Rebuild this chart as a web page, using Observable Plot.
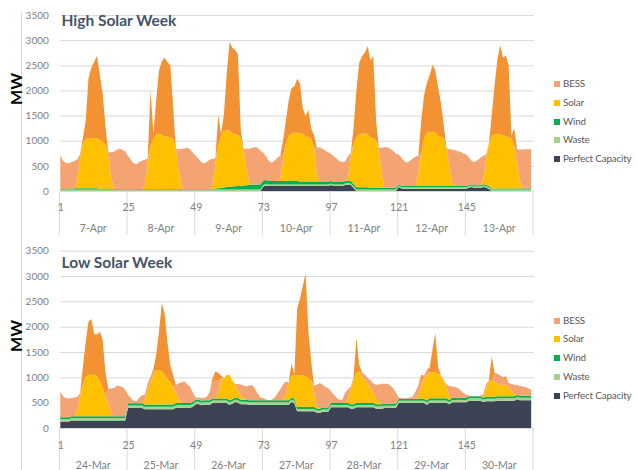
<!DOCTYPE html>
<html><head><meta charset="utf-8">
<script src="https://cdn.jsdelivr.net/npm/d3@7"></script>
<script src="https://cdn.jsdelivr.net/npm/@observablehq/plot@0.6"></script>
<style>
html,body{margin:0;padding:0;background:#fff;overflow:hidden}
#chart{position:relative;width:636px;height:470px;font-family:Lato,"Open Sans",sans-serif;overflow:hidden}
#chart svg{position:absolute;left:0}
.abs{position:absolute;white-space:nowrap;line-height:1}
</style></head><body><div id="chart"></div>
<script>
// ---------- categories / labels ----------
const order = ["Perfect Capacity","Waste","Wind","Solar","BESS","Solar to BESS"];
const colors = ["#3b4355","#a9d18e","#00b050","#ffc000","#f4a472","#f39232"];
const legendNames = ["BESS","Solar","Wind","Waste","Perfect Capacity"];
const legendColors = ["#f4a472","#ffc000","#00b050","#a9d18e","#3b4355"];
const yTicks = [0,500,1000,1500,2000,2500,3000,3500];
const xTicks = [1,25,49,73,97,121,145];
const seps = [0.5,24.5,48.5,72.5,96.5,120.5,144.5,168.5];
const highDays = ["7-Apr","8-Apr","9-Apr","10-Apr","11-Apr","12-Apr","13-Apr"];
const lowDays = ["24-Mar","25-Mar","26-Mar","27-Mar","28-Mar","29-Mar","30-Mar"];

// ---------- High Solar Week (hourly MW) ----------
const hsPC = [
0,0,0,0,0,0,0,0,0,0,0,0,0,0,0,0,0,0,0,0,0,0,0,0,
0,0,0,0,0,0,0,0,0,0,0,0,0,0,0,0,0,0,0,0,0,0,0,0,
0,0,0,0,0,0,0,0,0,0,0,0,0,0,0,0,0,0,0,0,0,0,0,0,
90,110,100,100,100,100,100,100,100,100,100,100,100,100,100,100,100,100,100,100,100,100,100,100,
120,100,100,100,100,120,130,120,60,0,0,0,0,0,0,0,0,0,0,0,0,0,0,0,
80,50,45,45,45,45,45,45,45,45,45,45,45,45,45,45,45,45,45,45,45,45,45,45,
45,70,80,60,60,60,80,70,40,0,0,0,0,0,0,0,0,0,0,0,0,0,0,0];
const hsWaste = [
30,30,30,30,30,30,30,30,30,30,30,30,30,30,30,30,30,30,30,30,30,30,30,30,
30,30,30,30,30,30,30,30,30,30,30,30,30,30,30,30,30,30,30,30,30,30,30,30,
30,30,30,30,30,30,30,30,30,30,30,30,30,30,30,30,30,30,30,30,30,30,30,30,
30,30,30,30,30,30,30,30,30,30,30,30,30,30,30,30,30,30,30,30,30,30,30,30,
30,30,30,30,30,30,30,30,30,30,30,30,30,30,30,30,30,30,30,30,30,30,30,30,
30,30,30,30,30,30,30,30,30,30,30,30,30,30,30,30,30,30,30,30,30,30,30,30,
30,30,30,30,30,30,30,30,30,30,30,30,30,30,30,30,30,30,30,30,30,30,30,30];
const hsWind = [
10,10,10,10,10,25,25,25,25,25,25,25,25,25,10,10,10,10,10,10,10,10,10,10,
10,10,10,10,10,10,10,10,10,10,10,10,10,10,10,10,10,10,10,10,10,10,10,10,
10,10,10,10,10,10,15,20,25,30,40,50,55,60,65,70,75,80,85,90,95,100,100,100,
90,80,70,70,70,70,70,70,70,70,70,70,70,60,60,60,60,60,60,60,60,60,60,60,
50,50,50,50,50,50,50,50,45,45,45,45,45,45,35,35,35,35,35,35,35,35,35,35,
25,25,25,25,25,25,25,25,25,25,25,25,25,25,25,25,25,25,25,25,25,25,25,25,
25,25,25,25,25,25,25,25,25,20,20,20,20,20,20,20,20,20,20,20,20,20,20,20];
const hsSolar = [
0,0,0,0,0,0,150,600,900,980,1000,1000,1000,990,980,950,870,650,250,0,0,0,0,0,
0,0,0,0,0,0,100,500,850,1000,1080,1100,1080,1050,1040,1030,1000,800,400,50,0,0,0,0,
0,0,0,0,0,0,100,500,850,1050,1120,1130,1120,1060,1040,1020,950,700,350,50,0,0,0,0,
0,0,0,0,0,0,50,400,750,900,950,960,960,960,950,900,880,850,670,150,0,0,0,0,
0,0,0,0,0,0,50,450,800,1000,1060,1070,1070,1060,1000,980,950,700,300,0,0,0,0,0,
0,0,0,0,0,0,0,250,650,950,1050,1080,1080,1070,1000,980,950,750,400,50,0,0,0,0,
0,0,0,0,0,0,100,500,850,1050,1080,1080,1080,1060,1040,1020,1000,850,500,150,0,0,0,0];
const hsBess = [
670,560,515,510,535,540,420,80,0,0,0,0,0,0,0,0,0,80,480,740,780,800,780,750,
660,580,510,490,535,560,480,100,0,0,0,0,0,0,0,0,0,0,390,750,805,818,790,720,
660,600,530,508,540,580,495,100,0,0,0,0,0,0,0,0,0,30,375,670,733,741,728,670,
550,473,394,360,400,460,450,100,0,0,0,0,0,0,0,0,0,0,0,520,680,650,610,583,
540,513,460,410,395,387,433,100,0,0,0,0,0,0,0,0,0,85,493,806,806,773,735,675,
591,555,490,461,500,550,580,350,0,0,0,0,0,0,0,0,0,0,330,675,712,692,680,640,
626,535,459,465,495,545,465,100,0,0,0,0,0,0,0,0,0,0,275,625,775,782,780,775];
const hsExcess = [
0,0,0,0,0,0,0,0,100,350,1180,1400,1510,1640,1290,960,400,0,0,0,0,0,0,0,
0,0,0,0,0,0,0,0,1120,110,680,1260,1460,1560,1480,1430,660,0,0,0,0,0,0,0,
0,0,0,0,0,0,0,0,600,30,320,1100,1760,1700,1670,1600,170,0,0,0,0,0,0,0,
0,0,0,0,0,0,0,300,450,700,900,920,1070,990,500,400,540,200,250,0,0,0,0,0,
0,0,0,0,0,0,0,0,320,925,1415,1535,1605,1745,1535,1635,385,0,0,0,0,0,0,0,
0,0,0,0,0,0,0,0,650,850,1000,1120,1330,1230,950,670,250,0,0,0,0,0,0,0,
0,0,0,0,0,0,0,0,0,400,970,1470,1770,1540,1610,1430,50,350,0,0,0,0,0,0];

// ---------- Low Solar Week (hourly MW) ----------
const lsPC = [
130,130,130,130,150,150,150,150,150,150,150,150,150,150,150,150,150,150,150,150,150,150,150,150,
395,395,395,395,395,395,370,370,370,370,370,370,370,370,370,370,370,400,400,400,400,400,400,420,
470,475,447,460,460,460,494,494,494,494,494,494,460,480,513,500,470,470,470,460,460,460,460,460,
460,460,460,460,460,460,460,460,460,460,513,490,330,330,330,330,330,330,330,300,296,320,320,320,
408,408,408,408,408,408,408,382,382,408,408,408,408,408,408,408,382,382,382,395,395,395,395,395,
494,494,494,494,494,494,494,494,494,494,460,500,500,500,500,500,500,500,470,510,510,510,510,510,
510,540,540,540,540,540,513,530,530,530,530,540,540,540,540,540,540,540,566,550,550,550,550,550];
const lsWaste = [
45,45,45,45,45,45,45,45,45,45,45,45,45,45,45,45,45,45,45,45,45,45,45,45,
50,50,50,50,50,50,50,50,50,50,50,50,50,50,50,50,50,50,50,50,50,50,50,50,
50,50,50,50,50,50,50,50,50,50,50,50,50,50,50,50,50,50,50,50,50,50,50,50,
50,50,50,50,50,50,50,50,50,50,50,50,45,45,45,45,45,45,45,45,45,45,45,45,
45,45,45,45,45,45,45,45,45,45,45,45,45,45,45,45,45,45,45,45,45,45,45,45,
45,45,45,45,45,45,45,45,45,45,45,45,45,45,45,45,45,45,45,45,45,45,45,45,
45,45,45,45,45,45,45,45,45,45,45,45,45,45,45,45,45,45,45,45,45,45,45,45];
const lsWind = [
35,35,35,35,35,35,35,35,35,35,35,35,35,35,35,35,35,35,35,35,35,35,35,35,
45,45,45,45,45,45,45,45,45,45,45,45,45,45,45,45,45,45,45,45,45,45,45,45,
40,40,40,40,40,40,40,40,40,40,40,40,40,40,40,40,40,40,40,40,40,40,40,40,
40,40,40,40,40,40,40,40,40,40,40,40,40,40,40,40,40,40,40,40,40,40,40,40,
40,40,40,40,40,40,40,40,40,40,40,40,40,40,40,40,40,40,40,40,40,40,40,40,
40,40,40,40,40,40,40,40,40,40,40,40,40,40,40,40,40,40,40,40,40,40,40,40,
40,40,40,40,40,40,40,40,40,40,40,40,40,40,40,40,40,40,40,40,40,40,40,40];
const lsSolar = [
0,0,0,0,0,0,100,400,650,780,820,820,810,800,700,560,420,250,60,0,0,0,0,0,
0,0,0,0,0,0,100,300,450,580,680,680,650,600,500,450,350,200,80,0,0,0,0,0,
0,0,0,0,0,0,0,0,100,350,400,460,500,370,250,150,70,20,0,0,0,0,0,0,
0,0,0,0,0,0,0,0,100,350,420,470,620,620,620,600,570,520,300,50,0,0,0,0,
0,0,0,0,0,0,80,300,480,600,620,520,450,380,300,200,120,50,0,0,0,0,0,0,
0,0,0,0,0,0,0,70,220,400,500,510,520,510,490,450,350,220,80,0,0,0,0,0,
0,0,0,0,0,0,0,150,330,320,300,250,230,220,230,170,100,50,0,0,0,0,0,0];
const lsBess = [
512,410,380,370,360,370,280,50,0,0,0,0,0,0,0,0,0,300,490,560,604,600,580,530,
167,100,55,40,110,150,95,120,100,50,0,0,0,0,0,0,0,155,315,405,425,375,325,185,
40,35,53,40,70,160,300,350,250,50,0,0,0,0,20,130,230,260,260,290,300,230,130,50,
40,10,0,10,50,130,210,310,270,0,0,0,0,0,0,0,0,0,125,419,506,455,405,385,
227,167,97,67,67,207,187,50,0,0,0,87,107,112,157,187,267,343,413,390,400,360,310,220,
21,11,6,11,21,41,141,200,150,50,100,0,0,0,0,0,15,55,195,225,215,195,145,95,
62,15,5,3,5,15,62,100,0,0,185,195,185,155,95,92,145,179,199,195,185,175,145,120];
const lsExcess = [
0,0,0,0,0,0,0,0,320,690,1050,1100,820,810,970,960,450,0,0,0,0,0,0,0,
0,0,0,0,0,0,0,0,0,60,300,750,1350,1200,730,330,230,0,0,0,0,0,0,0,
0,0,0,0,0,0,100,180,150,50,0,0,0,0,0,0,0,0,0,0,0,0,0,0,
0,0,0,0,0,0,0,0,0,0,257,0,1315,1515,1765,2035,915,365,0,0,0,0,0,0,
0,0,0,0,0,0,0,0,50,687,130,0,0,0,0,0,0,0,0,0,0,0,0,0,
0,0,0,0,0,0,0,0,100,0,0,105,445,775,125,0,0,0,0,0,0,0,0,0,
0,0,0,0,0,0,0,0,0,475,0,0,0,0,70,0,0,0,0,0,0,0,0,0];

// ---------- build ----------
function table(arrs) {
  return order.flatMap((name, k) => arrs[k].map((v, i) => ({hour: i + 1, series: name, value: v})));
}

function panel({data, days, height, marginTop, marginBottom, numDy, dayDy}) {
  return Plot.plot({
    width: 636, height, marginLeft: 60.3, marginRight: 102, marginTop, marginBottom,
    x: {domain: [1, 169], axis: null},
    y: {domain: [0, 3500], axis: null},
    color: {domain: order, range: colors},
    style: {background: "transparent", color: "#808080", fontFamily: "Lato, 'Open Sans', sans-serif", fontSize: "10.5px", overflow: "visible"},
    marks: [
      Plot.gridY({ticks: yTicks, stroke: "#d9d9d9", strokeOpacity: 1}),
      Plot.areaY(data, {x: "hour", y: "value", fill: "series", order, curve: "linear"}),
      Plot.axisY({ticks: yTicks, tickSize: 0, tickPadding: 12, tickFormat: d => String(d), label: null, fontSize: 10}),
      Plot.axisX(seps, {tickSize: 44, tickFormat: () => "", label: null, stroke: "#d9d9d9", strokeOpacity: 1}),
      Plot.text(xTicks, {x: d => d, text: d => String(d), frameAnchor: "bottom", lineAnchor: "middle", dy: numDy}),
      Plot.text(days, {x: (d, i) => 24 * i + 12.5, text: d => d, frameAnchor: "bottom", lineAnchor: "middle", dy: dayDy})
    ]
  });
}

const chart = document.getElementById("chart");

const top1 = panel({data: table([hsPC, hsWaste, hsWind, hsSolar, hsBess, hsExcess]), days: highDays,
  height: 236, marginTop: 15, marginBottom: 45, numDy: 16, dayDy: 37});
top1.style.top = "0px";
chart.appendChild(top1);

const bot1 = panel({data: table([lsPC, lsWaste, lsWind, lsSolar, lsBess, lsExcess]), days: lowDays,
  height: 235, marginTop: 15.7, marginBottom: 42, numDy: 17, dayDy: 37});
bot1.style.top = "235px";
chart.appendChild(bot1);

function addDiv(html, css) {
  const d = document.createElement("div");
  d.className = "abs";
  d.style.cssText += css;
  d.textContent = html;
  chart.appendChild(d);
  return d;
}

// left border line
const line = document.createElement("div");
line.style.cssText = "position:absolute;left:20.5px;top:12px;width:1px;height:458px;background:#d9d9d9";
chart.appendChild(line);

// panel titles
addDiv("High Solar Week", "left:61.5px;top:13.3px;font-weight:700;font-size:15.5px;color:#44546a");
addDiv("Low Solar Week", "left:61.5px;top:254.5px;font-weight:700;font-size:15.5px;color:#44546a");

// y axis titles
addDiv("MW", "left:15.5px;top:88.5px;transform:translate(-50%,-50%) rotate(-90deg);font-weight:700;font-size:16px;color:#000");
addDiv("MW", "left:15.5px;top:335.8px;transform:translate(-50%,-50%) rotate(-90deg);font-weight:700;font-size:16px;color:#000");

// legends
[84, 320.7].forEach(y0 => {
  legendNames.forEach((name, i) => {
    const y = y0 + i * 18.75;
    const sq = document.createElement("div");
    sq.style.cssText = `position:absolute;left:554px;top:${y - 3}px;width:6px;height:6px;background:${legendColors[i]}`;
    chart.appendChild(sq);
    addDiv(name, `left:563px;top:${y}px;transform:translateY(-50%);font-size:9.8px;letter-spacing:-0.15px;color:#595959`);
  });
});
</script></body></html>
